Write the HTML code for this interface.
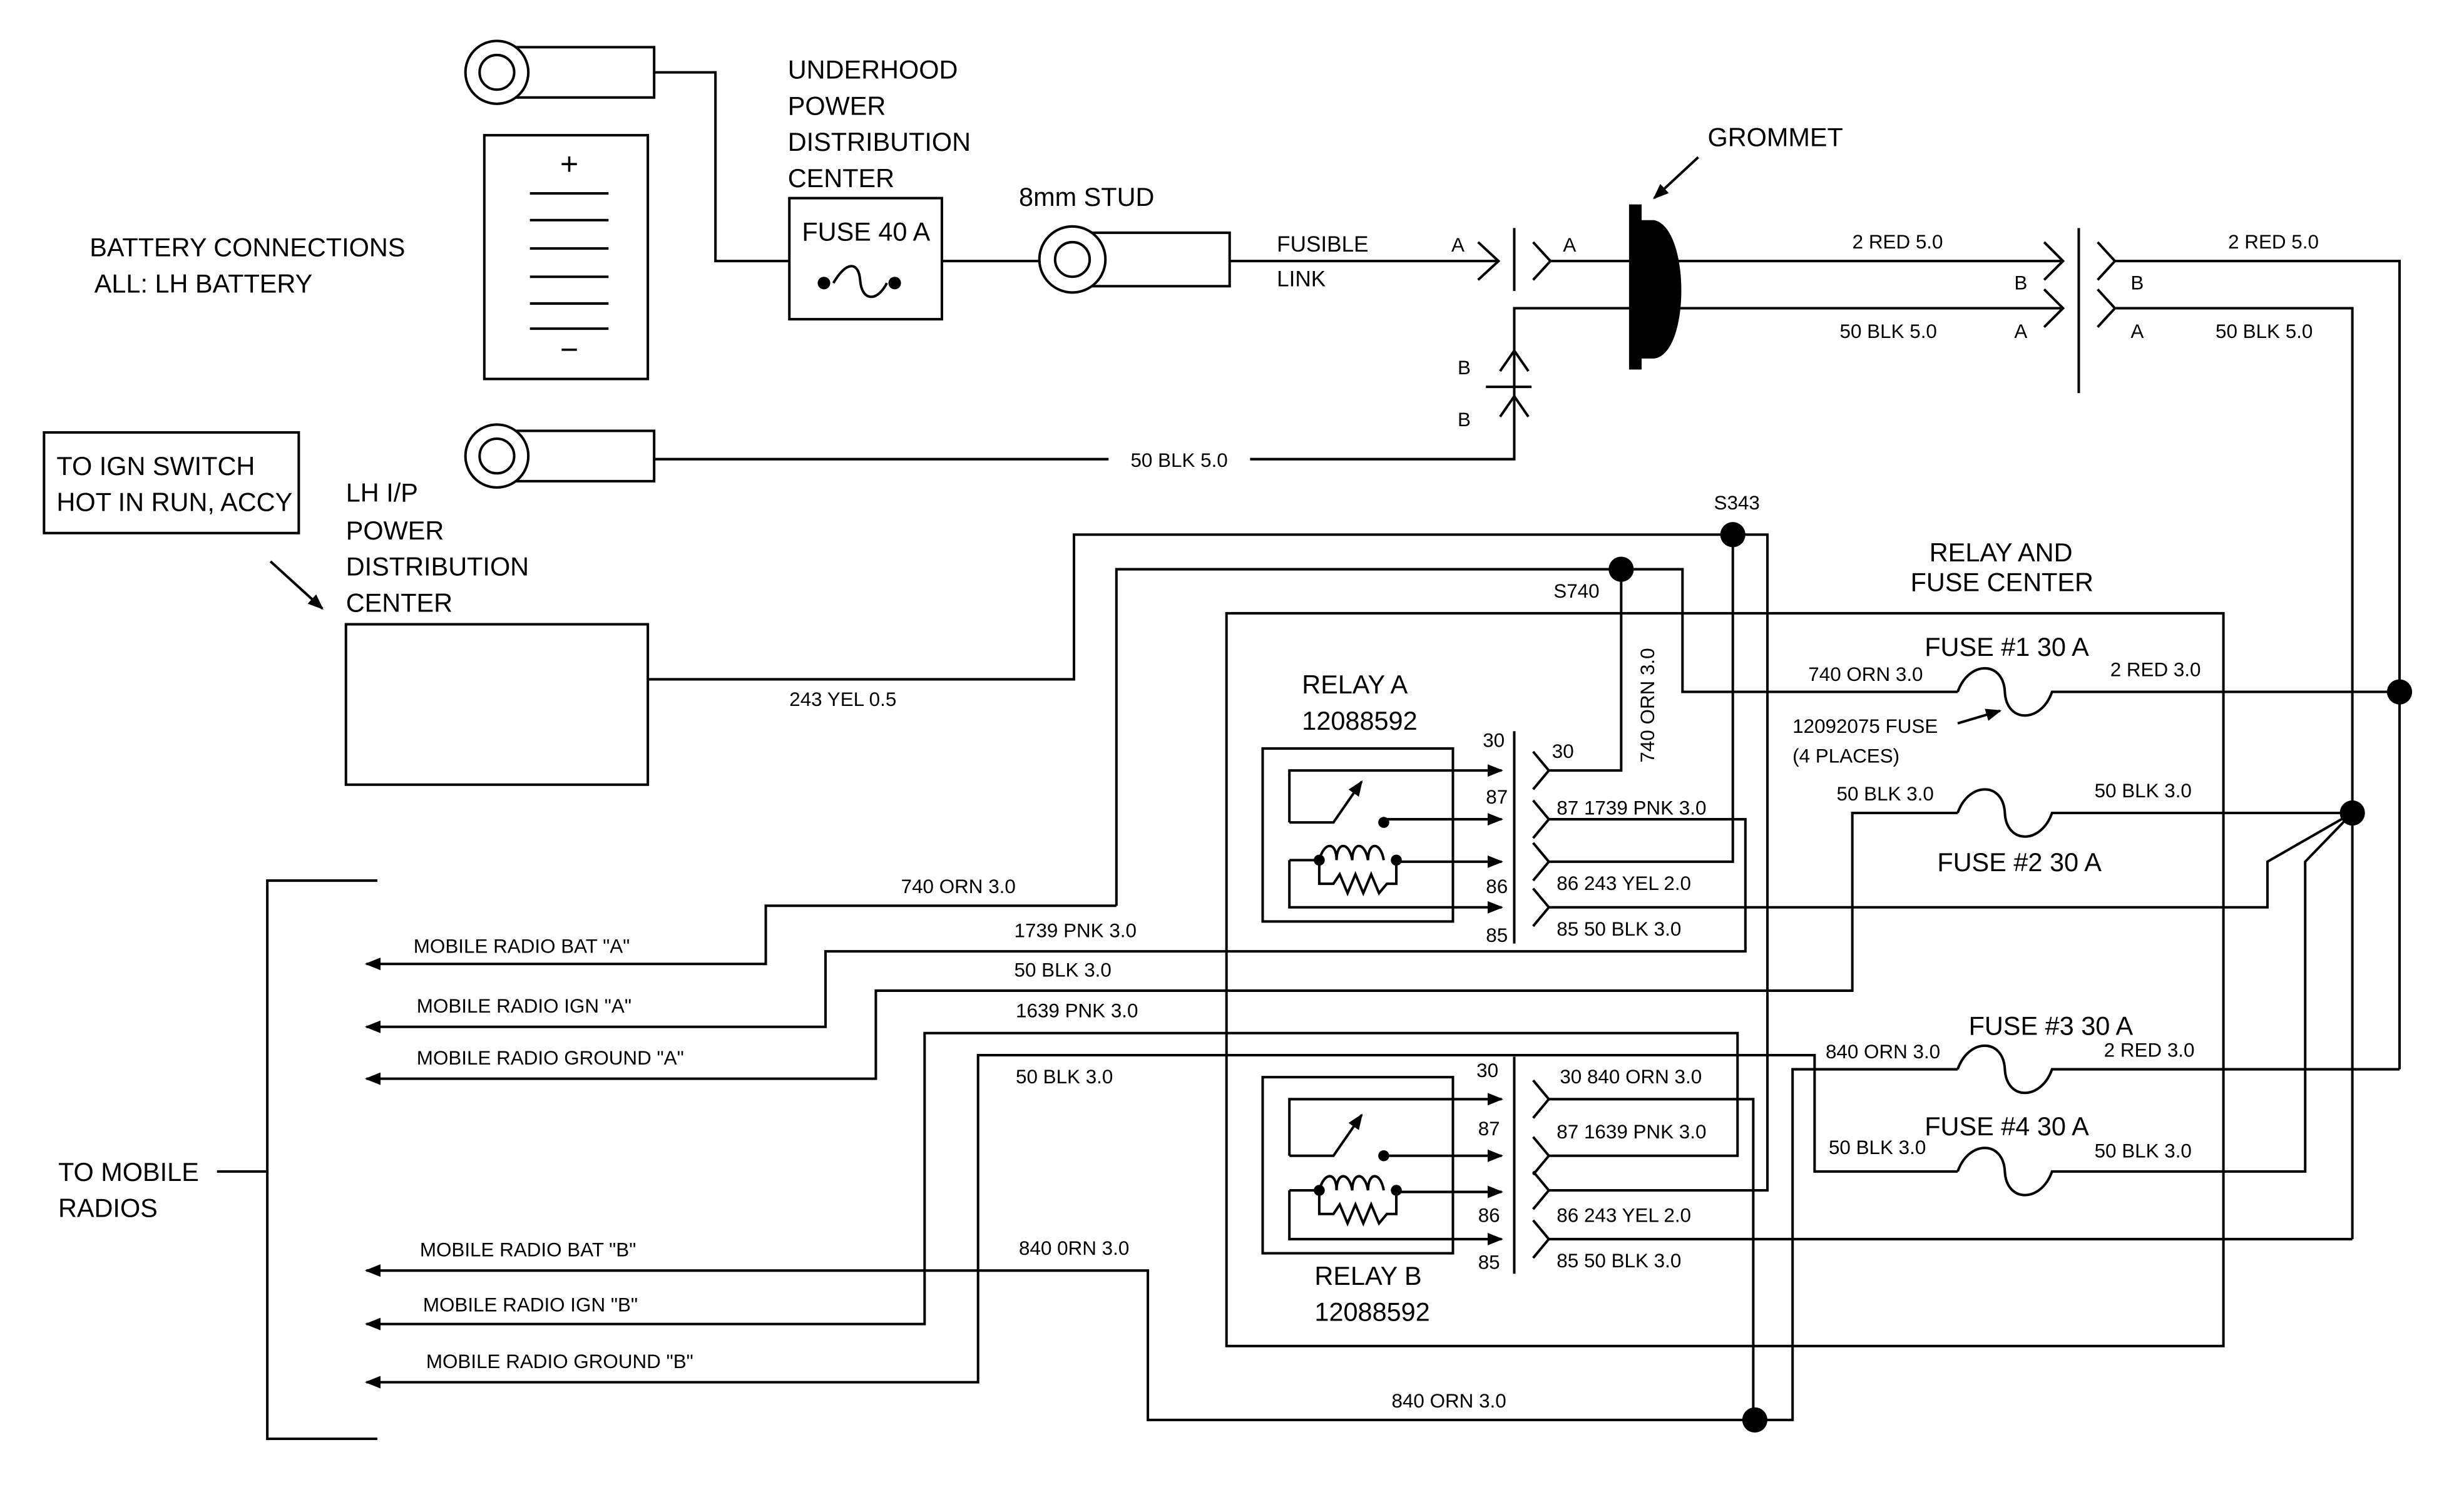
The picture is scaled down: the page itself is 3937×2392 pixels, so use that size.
<!DOCTYPE html>
<html><head><meta charset="utf-8"><style>
html,body{margin:0;padding:0;background:#fff;}
svg{display:block;}
text{font-family:"Liberation Sans",Arial,sans-serif;fill:#000;}
.b{font-size:16.5px}.s{font-size:12.5px}
</style></head><body>
<svg width="3937" height="2392" viewBox="0 0 1567 952" preserveAspectRatio="none" xmlns="http://www.w3.org/2000/svg">
<defs>
<marker id="ar" markerWidth="10" markerHeight="8" refX="9" refY="4" orient="auto" markerUnits="userSpaceOnUse"><path d="M0,0 L10,4 L0,8 Z" fill="#000"/></marker>
</defs>
<g fill="none" stroke="#000" stroke-width="1.6">
<rect x="316" y="30" width="100" height="32" fill="#fff"/>
<circle cx="316" cy="46" r="20" fill="#fff"/><circle cx="316" cy="46" r="11"/>
<path d="M416,46 H455 V166 H502"/>
<rect x="308" y="86" width="104" height="155"/>
<path d="M337,123H387M337,140H387M337,158H387M337,176H387M337,193H387M337,209H387"/>
<rect x="502" y="126" width="97" height="77"/>
<path d="M530,180 C538,166 546,166 547,178 C548,192 558,192 564,180"/>
<path d="M599,166 H662"/>
<rect x="682" y="148" width="100" height="34" fill="#fff"/>
<circle cx="682" cy="165" r="21" fill="#fff"/><circle cx="682" cy="165" r="11"/>
<path d="M782,166 H953"/>
<path d="M940,154 L953,166 L940,178"/>
<path d="M963,145 V185"/>
<path d="M975,154 L986,166 L975,178 M986,166 H1040"/>
<path d="M1060,166 H1312 M1300,154 L1312,166 L1300,178"/>
<path d="M1060,196 H1312 M1300,184 L1312,196 L1300,208"/>
<path d="M1322,145 V250"/>
<path d="M1334,154 L1345,166 L1334,178 M1345,166 H1526 V680"/>
<path d="M1334,184 L1345,196 L1334,208 M1345,196 H1496 V788"/>
<path d="M1040,196 H963 V292 H795 M705,292 H416"/>
<path d="M954,236 L963,223 L972,236 M945,246 H974 M954,265 L963,252 L972,265"/>
<rect x="316" y="274" width="100" height="32" fill="#fff"/>
<circle cx="316" cy="290" r="20" fill="#fff"/><circle cx="316" cy="290" r="11"/>
<path d="M1080,100 L1052,126" marker-end="url(#ar)"/>
<rect x="28" y="275" width="162" height="64"/>
<path d="M172,357 L205,387" marker-end="url(#ar)"/>
<rect x="220" y="397" width="192" height="102"/>
<path d="M412,432 H683 V340 H1124 V757 H985"/>
<path d="M1102,340 V548 H985"/>
<path d="M710,576 V362 H1070 V440 H1245"/>
<path d="M1031,362 V490 H985"/>
<path d="M710,576 H487 V613 H233" marker-end="url(#ar)"/>
<rect x="780" y="390" width="634" height="466"/>
<path d="M1245,440 C1252,420 1274,420 1275,440 C1276,460 1298,460 1305,440 H1526"/>
<path d="M1245,517 C1252,497 1274,497 1275,517 C1276,537 1298,537 1305,517 H1496"/>
<path d="M1245,680 C1252,660 1274,660 1275,680 C1276,700 1298,700 1305,680 H1526"/>
<path d="M1245,745 C1252,725 1274,725 1275,745 C1276,765 1298,765 1305,745 H1466 V548 L1496,517"/>
<path d="M1496,517 L1442,548 V577 H985"/>
<path d="M1245,517 H1178 V630 H557 V686 H233" marker-end="url(#ar)"/>
<path d="M1245,460 L1272,452" marker-end="url(#ar)"/>
<path d="M985,521 H1110 V605 H525 V653 H233" marker-end="url(#ar)"/>
<!-- relay B lines -->
<path d="M985,699 H1115 V903"/>
<path d="M1245,680 H1140 V903 H730 V808 H233" marker-end="url(#ar)"/>
<path d="M985,735 H1105 V657 H588 V842 H233" marker-end="url(#ar)"/>
<path d="M985,788 H1496"/>
<path d="M1245,745 H1154 V671 H622 V879 H233" marker-end="url(#ar)"/>
<path d="M963,465 V600 M963,672 V810"/>
<path d="M975,478 L985,490 L975,502 M975,509 L985,521 L975,533 M975,536 L985,548 L975,560 M975,565 L985,577 L975,589"/>
<path d="M975,687 L985,699 L975,711 M975,723 L985,735 L975,747 M975,745 L985,757 L975,769 M975,776 L985,788 L975,800"/>
<!-- relay A -->
<rect x="803" y="476" width="121" height="110"/>
<path d="M820,523 V490 H955" marker-end="url(#ar)"/>
<path d="M820,523 H848 L866,497" marker-end="url(#ar)"/>
<path d="M880,521 H955" marker-end="url(#ar)"/>
<path d="M839,547 C842,535 850,535 850,547 C850,535 858,535 860,547 C860,535 868,535 870,547 C870,535 878,535 880,547 M888,548 H955" marker-end="url(#ar)"/>
<path d="M820,547 H839 V562 H848 L852,556 L857,568 L862,556 L867,568 L872,556 L877,568 L882,562 H888 V547"/>
<path d="M820,547 V577 H955" marker-end="url(#ar)"/>
<!-- relay B -->
<rect x="803" y="685" width="121" height="112"/>
<path d="M820,735 V699 H955" marker-end="url(#ar)"/>
<path d="M820,735 H848 L866,709" marker-end="url(#ar)"/>
<path d="M880,735 H955" marker-end="url(#ar)"/>
<path d="M839,757 C842,745 850,745 850,757 C850,745 858,745 860,757 C860,745 868,745 870,757 C870,745 878,745 880,757 M888,758 H955" marker-end="url(#ar)"/>
<path d="M820,757 H839 V772 H848 L852,766 L857,778 L862,766 L867,778 L872,766 L877,778 L882,772 H888 V757"/>
<path d="M820,757 V788 H955" marker-end="url(#ar)"/>
<path d="M240,560 H170 V915 H240 M138,745 H170"/>
</g>
<g fill="#000">
<rect x="1036" y="130" width="8" height="105"/>
<path d="M1044,140 H1052 C1075,145 1075,225 1052,228 H1044 Z"/>
<circle cx="524" cy="180" r="4"/><circle cx="569" cy="180" r="4"/>
<circle cx="1102" cy="340" r="8"/><circle cx="1031" cy="362" r="8"/>
<circle cx="1526" cy="440" r="8"/><circle cx="1496" cy="517" r="8"/>
<circle cx="1116" cy="903" r="8"/>
<circle cx="880" cy="523" r="3.5"/><circle cx="839" cy="547" r="3.5"/><circle cx="888" cy="547" r="3.5"/>
<circle cx="880" cy="735" r="3.5"/><circle cx="839" cy="757" r="3.5"/><circle cx="888" cy="757" r="3.5"/>
</g>
<g class="b">
<text x="362" y="111" text-anchor="middle" font-size="20">+</text>
<text x="362" y="229" text-anchor="middle" font-size="20">−</text>
<text x="57" y="163">BATTERY CONNECTIONS</text>
<text x="60" y="186">ALL: LH BATTERY</text>
<text x="501" y="50">UNDERHOOD</text>
<text x="501" y="73">POWER</text>
<text x="501" y="96">DISTRIBUTION</text>
<text x="501" y="119">CENTER</text>
<text x="510" y="153">FUSE 40 A</text>
<text x="648" y="131">8mm STUD</text>
<text x="1086" y="93">GROMMET</text>
<text x="36" y="302">TO IGN SWITCH</text>
<text x="36" y="325">HOT IN RUN, ACCY</text>
<text x="220" y="319">LH I/P</text>
<text x="220" y="343">POWER</text>
<text x="220" y="366">DISTRIBUTION</text>
<text x="220" y="389">CENTER</text>
<text x="1227" y="357">RELAY AND</text>
<text x="1215" y="376">FUSE CENTER</text>
<text x="1224" y="417">FUSE #1 30 A</text>
<text x="1232" y="554">FUSE #2 30 A</text>
<text x="1252" y="658">FUSE #3 30 A</text>
<text x="1224" y="722">FUSE #4 30 A</text>
<text x="828" y="441">RELAY A</text>
<text x="828" y="464">12088592</text>
<text x="836" y="817">RELAY B</text>
<text x="836" y="840">12088592</text>
<text x="37" y="751">TO MOBILE</text>
<text x="37" y="774">RADIOS</text>
</g>
<g class="s">
<text x="812" y="160" font-size="14">FUSIBLE</text>
<text x="812" y="182" font-size="14">LINK</text>
<text x="923" y="160">A</text><text x="994" y="160">A</text>
<text x="1178" y="158">2 RED 5.0</text>
<text x="1281" y="184">B</text><text x="1355" y="184">B</text>
<text x="1170" y="215">50 BLK 5.0</text>
<text x="1281" y="215">A</text><text x="1355" y="215">A</text>
<text x="1417" y="158">2 RED 5.0</text>
<text x="1409" y="215">50 BLK 5.0</text>
<text x="927" y="238">B</text><text x="927" y="271">B</text>
<text x="719" y="297">50 BLK 5.0</text>
<text x="1090" y="324">S343</text>
<text x="988" y="380">S740</text>
<text x="502" y="449">243 YEL 0.5</text>
<text transform="translate(1052,485) rotate(-90)">740 ORN 3.0</text>
<text x="1150" y="433">740 ORN 3.0</text>
<text x="1342" y="430">2 RED 3.0</text>
<text x="1140" y="466">12092075 FUSE</text>
<text x="1140" y="485">(4 PLACES)</text>
<text x="1168" y="509">50 BLK 3.0</text>
<text x="1332" y="507">50 BLK 3.0</text>
<text x="1161" y="673">840 ORN 3.0</text>
<text x="1338" y="672">2 RED 3.0</text>
<text x="1163" y="734">50 BLK 3.0</text>
<text x="1332" y="736">50 BLK 3.0</text>
<text x="943" y="475">30</text><text x="945" y="511">87</text><text x="945" y="568">86</text><text x="945" y="599">85</text>
<text x="987" y="482">30</text>
<text x="990" y="518">87  1739 PNK 3.0</text>
<text x="990" y="566">86  243 YEL 2.0</text>
<text x="990" y="595">85  50 BLK 3.0</text>
<text x="939" y="685">30</text><text x="940" y="722">87</text><text x="940" y="777">86</text><text x="940" y="807">85</text>
<text x="992" y="689">30 840 ORN 3.0</text>
<text x="990" y="724">87 1639 PNK 3.0</text>
<text x="990" y="777">86  243 YEL 2.0</text>
<text x="990" y="806">85  50 BLK 3.0</text>
<text x="573" y="568">740 ORN 3.0</text>
<text x="645" y="596">1739 PNK 3.0</text>
<text x="645" y="621">50 BLK 3.0</text>
<text x="646" y="647">1639 PNK 3.0</text>
<text x="646" y="689">50 BLK 3.0</text>
<text x="648" y="798">840 0RN 3.0</text>
<text x="885" y="895">840 ORN 3.0</text>
<text x="263" y="606">MOBILE RADIO BAT "A"</text>
<text x="265" y="644">MOBILE RADIO IGN "A"</text>
<text x="265" y="677">MOBILE RADIO GROUND "A"</text>
<text x="267" y="799">MOBILE RADIO BAT "B"</text>
<text x="269" y="834">MOBILE RADIO IGN "B"</text>
<text x="271" y="870">MOBILE RADIO GROUND "B"</text>
</g>
</svg>
</body></html>
